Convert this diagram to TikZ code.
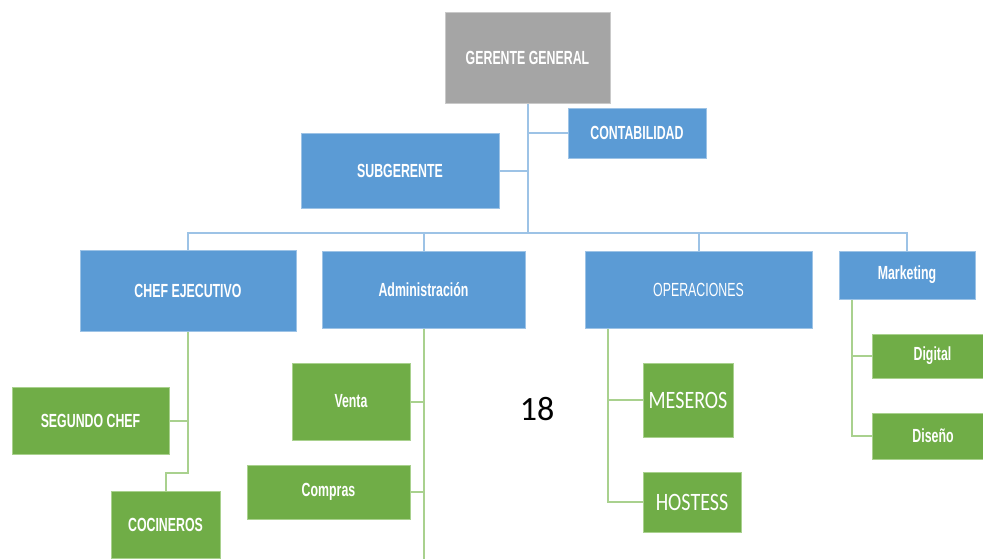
\documentclass[tikz,border=0pt]{standalone}
\usepackage{fontspec}
\usetikzlibrary{calc}
\newfontfamily\nf[FakeStretch=0.65]{Liberation Sans}
\newfontfamily\cf[FakeStretch=0.8]{Carlito}
\newfontfamily\cfn{Carlito}
\definecolor{cblue}{HTML}{5B9BD5}
\definecolor{cgreen}{HTML}{70AD47}
\definecolor{cgray}{HTML}{A5A5A5}
\definecolor{lblue}{HTML}{9DC3E6}
\definecolor{lgreen}{HTML}{A9D18E}
\definecolor{lgray}{HTML}{C9C9C9}
\tikzset{
  bx/.style n args={2}{minimum width=#1*0.75pt, minimum height=#2*0.75pt, inner sep=0pt, text=white, line width=0.75pt},
  bluebox/.style={fill=cblue, draw=lblue, font=\nf\bfseries\fontsize{14.25}{17}\selectfont},
  bluethin/.style={fill=cblue, draw=lblue, font=\nf\fontsize{14.25}{17}\selectfont},
  greenbox/.style={fill=cgreen, draw=lgreen, font=\nf\bfseries\fontsize{14.25}{17}\selectfont},
  greencal/.style={fill=cgreen, draw=lgreen, font=\cf\fontsize{18.75}{22}\selectfont},
  graybox/.style={fill=cgray, draw=lgray, font=\nf\bfseries\fontsize{14.25}{17}\selectfont},
  bline/.style={draw=lblue, line width=1.5pt},
  gline/.style={draw=lgreen, line width=1.5pt},
}
\begin{document}
\begin{tikzpicture}[x=0.75pt,y=-0.75pt]
\useasboundingbox (0,0) rectangle (983,558);
\fill[white] (0,0) rectangle (983,558);
\clip (0,0) rectangle (983,558);

% connectors first (behind boxes)
\node[bx={165}{91}, graybox] (gg) at (527.5,57.5) {GERENTE GENERAL};
\node[bx={138}{50}, bluebox] (cont) at (637,133) {CONTABILIDAD};
\node[bx={198}{75}, bluebox] (sub) at (400,170.5) {SUBGERENTE};
\node[bx={216}{81}, bluebox] (chef) at (188,291) {CHEF EJECUTIVO};
\node[bx={203}{77}, bluebox] (adm) at (423.5,289.5) {Administración};
\node[bx={227}{77}, bluethin] (ops) at (698.5,289.5) {OPERACIONES};
\node[bx={136}{48}, bluebox] (mkt) at (907,275) {Marketing};
\node[bx={157}{67}, greenbox] (seg) at (90.5,420.5) {SEGUNDO CHEF};
\node[bx={109}{67}, greenbox] (coc) at (165.5,524.5) {COCINEROS};
\node[bx={118}{77}, greenbox] (ven) at (351,401.5) {Venta};
\node[bx={163}{54}, greenbox] (com) at (328.5,492) {Compras};
\node[bx={90}{74}, greencal] (mes) at (688,400) {MESEROS};
\node[bx={98}{60}, greencal] (hos) at (692,502) {HOSTESS};
\node[bx={121}{44}, greenbox] (dig) at (932.5,356) {Digital};
\node[bx={121}{46}, greenbox] (dis) at (933,436) {Diseño};
\node[font=\cfn\fontsize{25.5}{30}\selectfont, text=black, inner sep=0pt] (num) at (537,409) {18};

% coordinates
\coordinate (bus) at (527.5,233);
\coordinate (cbend) at (165.5,473);
\coordinate (aend) at (423,562);
\coordinate (opx) at ($(ops.south west)+(23,0)$);
\coordinate (mkx) at ($(mkt.south west)+(13,0)$);

% top level
\draw[bline] (gg.south) -- (bus);
\draw[bline] (cont.west) -- (cont.west -| gg.south);
\draw[bline] (sub.east) -- (sub.east -| gg.south);
\draw[bline] (chef.north) |- (bus);
\draw[bline] (mkt.north) |- (bus);
\draw[bline] (adm.north) -- (adm.north |- bus);
\draw[bline] (ops.north) -- (ops.north |- bus);

% chef branch
\draw[gline] (chef.south) |- (cbend) -- (coc.north);
\draw[gline] (seg.east) -- (seg.east -| chef.south);

% admin branch
\draw[gline] (adm.south) -- (adm.south |- aend);
\draw[gline] (ven.east) -- (ven.east -| adm.south);
\draw[gline] (com.east) -- (com.east -| adm.south);

% operations branch
\draw[gline] (opx) |- (hos.west);
\draw[gline] (mes.west) -- (mes.west -| opx);

% marketing branch
\draw[gline] (mkx) |- (dis.west);
\draw[gline] (dig.west) -- (dig.west -| mkx);
\end{tikzpicture}
\end{document}
